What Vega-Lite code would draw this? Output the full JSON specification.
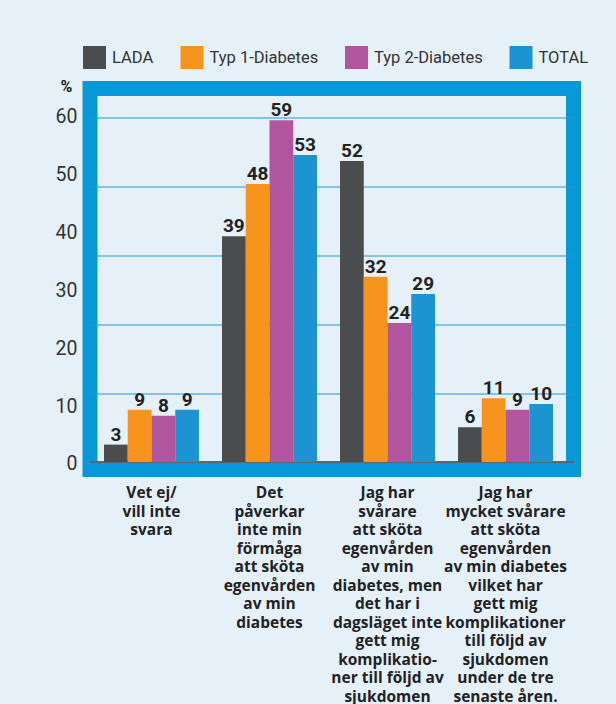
{
  "$schema": "https://vega.github.io/schema/vega-lite/v6.json",
  "width": 483.5,
  "height": 381,
  "autosize": {"type": "none"},
  "padding": {"left": 90, "top": 88.5, "right": 42.5, "bottom": 234.5},
  "background": "#e6f0f9",
  "title": {"text": "g", "anchor": "start", "frame": "group", "dx": 35, "offset": 92, "fontSize": 22, "fontWeight": "bold", "color": "#111111", "font": "Roboto"},
  "config": {
    "font": "Roboto",
    "view": {"stroke": "#0897d7", "strokeWidth": 15, "fill": "#e6f0f9"}
  },
  "data": {
    "values": [
      {"group": "Vet ej/|vill inte|svara", "type": "LADA", "value": 3},
      {"group": "Vet ej/|vill inte|svara", "type": "Typ 1-Diabetes", "value": 9},
      {"group": "Vet ej/|vill inte|svara", "type": "Typ 2-Diabetes", "value": 8},
      {"group": "Vet ej/|vill inte|svara", "type": "TOTAL", "value": 9},
      {"group": "Det|påverkar|inte min|förmåga|att sköta|egenvården|av min|diabetes", "type": "LADA", "value": 39},
      {"group": "Det|påverkar|inte min|förmåga|att sköta|egenvården|av min|diabetes", "type": "Typ 1-Diabetes", "value": 48},
      {"group": "Det|påverkar|inte min|förmåga|att sköta|egenvården|av min|diabetes", "type": "Typ 2-Diabetes", "value": 59},
      {"group": "Det|påverkar|inte min|förmåga|att sköta|egenvården|av min|diabetes", "type": "TOTAL", "value": 53},
      {"group": "Jag har|svårare|att sköta|egenvården|av min|diabetes, men|det har i|dagsläget inte|gett mig|komplikatio-|ner till följd av|sjukdomen", "type": "LADA", "value": 52},
      {"group": "Jag har|svårare|att sköta|egenvården|av min|diabetes, men|det har i|dagsläget inte|gett mig|komplikatio-|ner till följd av|sjukdomen", "type": "Typ 1-Diabetes", "value": 32},
      {"group": "Jag har|svårare|att sköta|egenvården|av min|diabetes, men|det har i|dagsläget inte|gett mig|komplikatio-|ner till följd av|sjukdomen", "type": "Typ 2-Diabetes", "value": 24},
      {"group": "Jag har|svårare|att sköta|egenvården|av min|diabetes, men|det har i|dagsläget inte|gett mig|komplikatio-|ner till följd av|sjukdomen", "type": "TOTAL", "value": 29},
      {"group": "Jag har|mycket svårare|att sköta|egenvården|av min diabetes|vilket har|gett mig|komplikationer|till följd av|sjukdomen|under de tre|senaste åren.", "type": "LADA", "value": 6},
      {"group": "Jag har|mycket svårare|att sköta|egenvården|av min diabetes|vilket har|gett mig|komplikationer|till följd av|sjukdomen|under de tre|senaste åren.", "type": "Typ 1-Diabetes", "value": 11},
      {"group": "Jag har|mycket svårare|att sköta|egenvården|av min diabetes|vilket har|gett mig|komplikationer|till följd av|sjukdomen|under de tre|senaste åren.", "type": "Typ 2-Diabetes", "value": 9},
      {"group": "Jag har|mycket svårare|att sköta|egenvården|av min diabetes|vilket har|gett mig|komplikationer|till följd av|sjukdomen|under de tre|senaste åren.", "type": "TOTAL", "value": 10}
    ]
  },
  "encoding": {
    "x": {
      "field": "group", "type": "nominal", "sort": null,
      "scale": {"paddingInner": 0.195, "paddingOuter": 0.146, "align": 0.406},
      "axis": {"title": null, "domain": false, "ticks": false, "labelExpr": "split(datum.label, '|')", "labelAngle": 0, "labelFont": "Open Sans", "labelFontWeight": "bold", "labelFontSize": 15.5, "labelLineHeight": 18.5, "labelPadding": 16, "labelColor": "#222222", "labelBaseline": "top", "labelLimit": 0}
    },
    "xOffset": {"field": "type", "type": "nominal", "sort": ["LADA", "Typ 1-Diabetes", "Typ 2-Diabetes", "TOTAL"], "scale": {"paddingInner": 0, "paddingOuter": 0}}
  },
  "layer": [
    {
      "mark": {"type": "rule", "color": "#5a6670", "strokeWidth": 1},
      "encoding": {
        "x": null,
        "xOffset": null,
        "y": {"datum": 0, "type": "quantitative", "scale": {"domain": [-1.3, 64.5], "nice": false, "zero": false},
          "axis": {"orient": "right", "values": [11.9, 23.8, 35.7, 47.6, 59.5], "grid": true, "gridColor": "#1a9ad8", "gridWidth": 1.2, "labels": false, "ticks": false, "domain": false, "title": null}}
      }
    },
    {
      "mark": {"type": "bar"},
      "encoding": {
        "y": {"field": "value", "type": "quantitative", "stack": null, "scale": {"domain": [-1.3, 64.5], "nice": false, "zero": false},
          "axis": {"orient": "left", "values": [0, 10, 20, 30, 40, 50, 60], "grid": false, "ticks": false, "domain": false, "labelPadding": 13, "labelOffset": 2, "labelFontSize": 19.5, "labelColor": "#333333", "labelFont": "Roboto",
            "title": "%", "titleAngle": 0, "titleX": -24, "titleY": -2, "titleAlign": "center", "titleBaseline": "middle", "titleFontSize": 16, "titleFontWeight": "bold", "titleColor": "#222222", "titleFont": "Roboto"}},
        "y2": {"datum": 0},
        "color": {
          "field": "type", "type": "nominal",
          "scale": {"domain": ["LADA", "Typ 1-Diabetes", "Typ 2-Diabetes", "TOTAL"], "range": ["#4b4c4e", "#f7941e", "#b2559f", "#1c94d2"]},
          "legend": {"orient": "none", "legendX": -7, "legendY": -42.5, "direction": "horizontal", "title": null, "symbolType": "square", "symbolSize": 529, "symbolStrokeWidth": 0, "symbolOpacity": 1, "labelFontSize": 16.5, "labelFont": "Roboto", "labelColor": "#333333", "columnPadding": 26.5, "labelOffset": 6, "padding": 0}
        }
      }
    },
    {
      "mark": {"type": "text", "baseline": "alphabetic", "dy": -4, "fontSize": 19, "fontWeight": "bold", "color": "#222222", "font": "Roboto"},
      "encoding": {
        "y": {"field": "value", "type": "quantitative", "stack": null, "scale": {"domain": [-1.3, 64.5], "nice": false, "zero": false}, "axis": null},
        "text": {"field": "value", "type": "quantitative"}
      }
    }
  ],
  "resolve": {"scale": {"y": "independent"}}
}
